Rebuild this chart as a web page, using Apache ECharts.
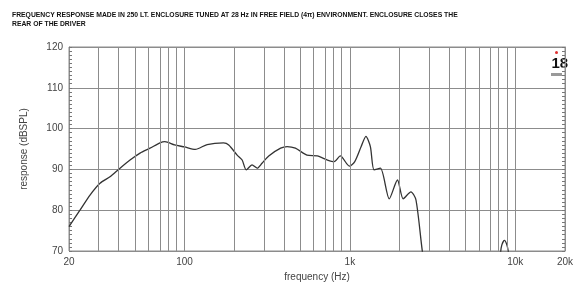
<!DOCTYPE html>
<html>
<head>
<meta charset="utf-8">
<script src="https://cdn.jsdelivr.net/npm/echarts@6/dist/echarts.min.js"></script>
<style>
  html, body { margin: 0; padding: 0; background: #fff; }
  #chart { width: 574px; height: 282px; }
</style>
</head>
<body>
<div id="chart"></div>
<script>
var freqHz = [20, 23.3, 26.8, 30.8, 35.4, 40.7, 46.8, 53.8, 61.8, 71, 76, 87, 100, 116, 137, 172, 185, 208, 223, 236,
  256, 275, 294, 323, 381, 417, 468, 550, 635, 732, 803, 875, 993, 1070, 1170, 1250, 1330, 1400, 1530, 1730,
  1940, 2100, 2340, 2510, 2740, 3000, 7900, 8150, 8300, 8600, 8900, 9100, 9400, 20000];
var response = [76.0, 80.0, 83.7, 86.6, 88.2, 90.3, 92.3, 94.0, 95.2, 96.5, 96.8, 96.0, 95.5, 94.9, 96.1, 96.5, 96.0, 93.5, 92.3, 89.9,
  91.1, 90.3, 91.5, 93.3, 95.2, 95.6, 95.2, 93.5, 93.3, 92.3, 91.9, 93.3, 90.8, 91.9, 95.6, 98.1, 95.6, 89.9, 90.3, 82.8,
  87.4, 82.8, 84.5, 82.5, 70.1, 60, 60, 69.5, 71.5, 72.6, 71.5, 69.5, 60, 60];

// x ticks / vertical grid
var xTickHz = [20, 100, 1000, 10000, 20000];
var xTickLabels = ['20', '100', '1k', '10k', '20k'];
var gridHz = [30, 40, 50, 60, 70, 80, 90, 100, 200, 300, 400, 500, 600, 700, 800, 900,
  1000, 2000, 3000, 4000, 5000, 6000, 7000, 8000, 9000, 10000];

var titleLines = [
  'FREQUENCY RESPONSE MADE IN 250 LT. ENCLOSURE TUNED AT 28 Hz IN FREE FIELD (4\u03c0) ENVIRONMENT. ENCLOSURE CLOSES THE',
  'REAR OF THE DRIVER'
];

var lg = function (v) { return Math.log10(v); };
var gridColor = '#8c8c8c';
var textColor = '#444';

var chart = echarts.init(document.getElementById('chart'));

var yAxisBase = {
  type: 'value',
  min: 70,
  max: 120,
  interval: 10,
  axisLine: { show: true, lineStyle: { color: gridColor } },
  axisTick: { show: true, inside: true, length: 3, lineStyle: { color: '#777' } },
  minorTick: { show: true, splitNumber: 10, length: 3, lineStyle: { color: '#777' } }
};

var option = {
  animation: false,
  backgroundColor: '#fff',
  grid: {
    left: 69, right: 9, top: 47, bottom: 31,
    outerBoundsMode: 'none',
    show: true, borderColor: gridColor, borderWidth: 1
  },
  graphic: [
    { type: 'text', left: 12, top: 12, style: { text: titleLines[0], fill: '#111', font: 'bold 6.8px "Liberation Sans Narrow", sans-serif' } },
    { type: 'text', left: 12, top: 21, style: { text: titleLines[1], fill: '#111', font: 'bold 6.8px "Liberation Sans Narrow", sans-serif' } },
    // small "18" logo in the top-right corner
    { type: 'circle', shape: { cx: 556.5, cy: 52.5, r: 1.5 }, style: { fill: '#e03030' } },
    { type: 'text', x: 551.5, y: 56, style: { text: '18', fill: '#111', font: 'bold 15px "Liberation Sans Narrow", sans-serif', verticalAlign: 'top' } },
    { type: 'rect', shape: { x: 551, y: 73, width: 11, height: 3 }, style: { fill: '#999' } }
  ],
  xAxis: {
    type: 'value',
    min: lg(20),
    max: lg(20000),
    name: 'frequency (Hz)',
    nameLocation: 'middle',
    nameGap: 21,
    nameTextStyle: { color: textColor, fontSize: 10, fontFamily: 'Liberation Sans' },
    axisLine: { show: false },
    axisTick: { show: false },
    splitLine: { show: false },
    axisLabel: {
      customValues: xTickHz.map(lg),
      color: textColor,
      fontSize: 10,
      fontFamily: 'Liberation Sans',
      margin: 6,
      formatter: function (v) {
        for (var i = 0; i < xTickHz.length; i++) {
          if (Math.abs(lg(xTickHz[i]) - v) < 1e-6) return xTickLabels[i];
        }
        return '';
      }
    }
  },
  yAxis: [
    Object.assign({}, yAxisBase, {
      position: 'left',
      name: 'response (dBSPL)',
      nameLocation: 'middle',
      nameGap: 40,
      nameTextStyle: { color: textColor, fontSize: 10, fontFamily: 'Liberation Sans' },
      splitLine: { show: true, lineStyle: { color: gridColor, width: 1 } },
      axisLabel: { color: textColor, fontSize: 10, fontFamily: 'Liberation Sans', margin: 6 }
    }),
    Object.assign({}, yAxisBase, {
      position: 'right',
      splitLine: { show: false },
      axisLabel: { show: false }
    })
  ],
  series: [
    {
      type: 'line',
      yAxisIndex: 0,
      data: freqHz.map(function (f, i) { return [lg(f), response[i]]; }),
      symbol: 'none',
      smooth: 0.25,
      clip: true,
      lineStyle: { color: '#333', width: 1.3 },
      markLine: {
        silent: true,
        symbol: 'none',
        label: { show: false },
        lineStyle: { color: gridColor, type: 'solid', width: 1 },
        data: gridHz.map(function (f) { return { xAxis: lg(f) }; })
      },
      z: 3
    }
  ]
};

chart.setOption(option);
</script>
</body>
</html>
